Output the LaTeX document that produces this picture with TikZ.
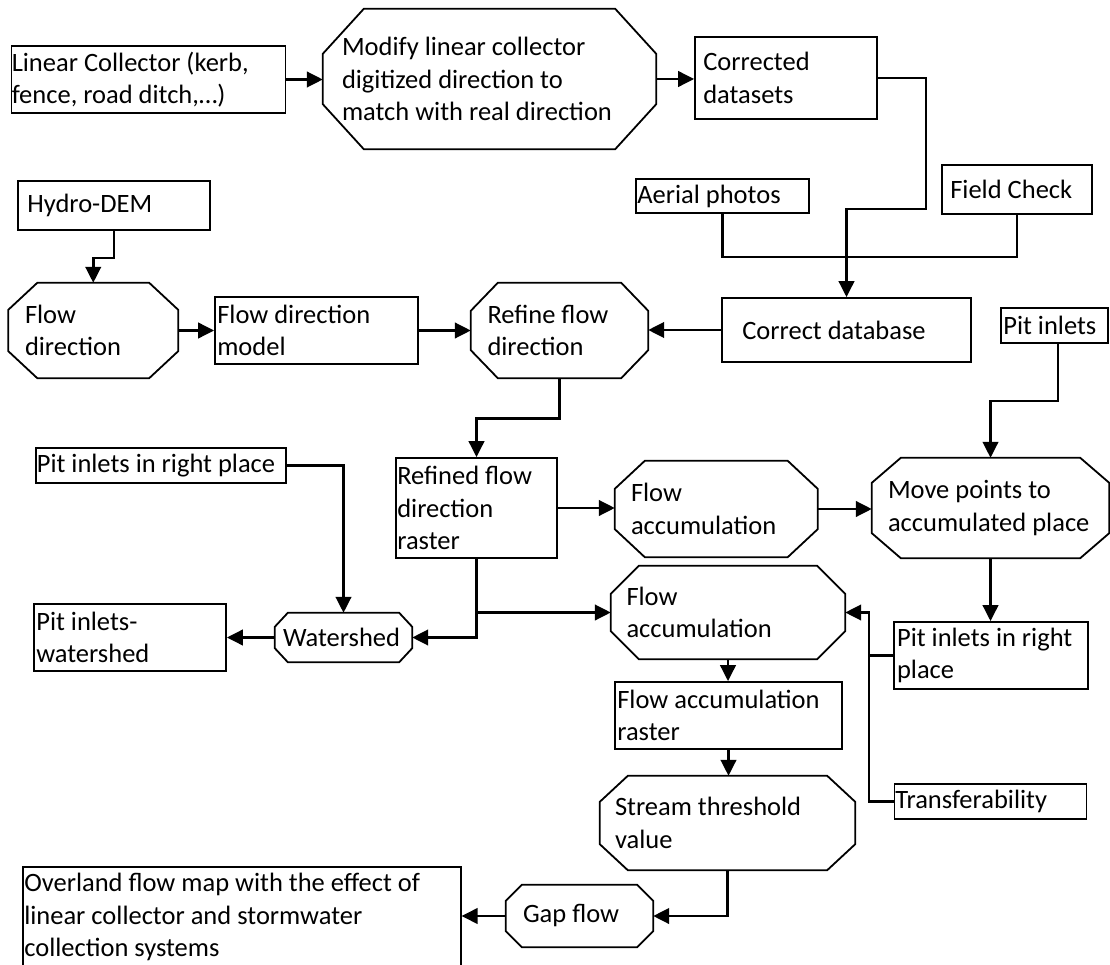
\documentclass[tikz,border=0pt]{standalone}
\usepackage{fontspec}
\setmainfont{Carlito}
\usetikzlibrary{arrows.meta,calc}
\newcommand\fsz{\fontsize{26.5}{32.5}\selectfont}
\newcommand\octo[3]{\draw[octline] ([xshift=#2pt]#1.north west) -- ([xshift=-#2pt]#1.north east) -- ([yshift=-#3pt]#1.north east) -- ([yshift=#3pt]#1.south east) -- ([xshift=-#2pt]#1.south east) -- ([xshift=#2pt]#1.south west) -- ([yshift=#3pt]#1.south west) -- ([yshift=-#3pt]#1.north west) -- cycle;}
\tikzset{
  shp/.style={draw=black, line width=1.8pt, inner sep=0pt},
  oc/.style={draw=none, inner sep=0pt},
  octline/.style={draw=black, line width=1.8pt, line join=miter},
  txt/.style={inner sep=0pt, align=left, font=\fsz, anchor=west},
  con/.style={line width=2.6pt},
  arr/.style={con, -{Triangle[length=16pt,width=15.5pt]}}
}
\begin{document}
\begin{tikzpicture}[x=1pt,y=-1pt]
\useasboundingbox (0,0) rectangle (1110,965);
% rectangles
\node[shp, minimum width=274pt, minimum height=67pt] (lin) at (148.5,79.5) {};
\node[shp, minimum width=182pt, minimum height=82pt] (corr) at (786,78) {};
\node[shp, minimum width=173pt, minimum height=34pt] (aer) at (722.5,196) {};
\node[shp, minimum width=150pt, minimum height=49pt] (fc) at (1017,189.5) {};
\node[shp, minimum width=192pt, minimum height=49pt] (hyd) at (114,205.5) {};
\node[shp, minimum width=203pt, minimum height=67pt] (fdm) at (316.5,330.5) {};
\node[shp, minimum width=249pt, minimum height=64pt] (cdb) at (846.5,330) {};
\node[shp, minimum width=107pt, minimum height=35pt] (pit) at (1054.5,325.5) {};
\node[shp, minimum width=161pt, minimum height=100pt] (rr) at (476.5,508) {};
\node[shp, minimum width=250pt, minimum height=35pt] (pirL) at (161,465.5) {};
\node[shp, minimum width=192pt, minimum height=67pt] (piw) at (130,637.5) {};
\node[shp, minimum width=193.5pt, minimum height=67pt] (pirR) at (991,655.5) {};
\node[shp, minimum width=227pt, minimum height=67pt] (far) at (728.5,715.5) {};
\node[shp, minimum width=192pt, minimum height=35pt] (tr) at (990.5,801.5) {};
\node[shp, minimum width=437.7pt, minimum height=100pt] (over) at (241.85,917) {};
% octagons
\node[oc, minimum width=333pt, minimum height=140pt] (mod) at (489.5,79) {}; \octo{mod}{41}{45}
\node[oc, minimum width=169.5pt, minimum height=95pt] (fd) at (93.25,330.5) {}; \octo{fd}{29}{27}
\node[oc, minimum width=177pt, minimum height=95pt] (ref) at (559.5,330.5) {}; \octo{ref}{27}{28}
\node[oc, minimum width=137pt, minimum height=49pt] (ws) at (343.5,637.5) {}; \octo{ws}{13}{14}
\node[oc, minimum width=202.5pt, minimum height=96pt] (fa1) at (716.25,509) {}; \octo{fa1}{30}{28}
\node[oc, minimum width=237pt, minimum height=100pt] (mv) at (990.5,508) {}; \octo{mv}{29}{25}
\node[oc, minimum width=234pt, minimum height=93pt] (fa2) at (728,612.5) {}; \octo{fa2}{28}{28}
\node[oc, minimum width=255pt, minimum height=94pt] (st) at (727.5,823) {}; \octo{st}{28}{26}
\node[oc, minimum width=147pt, minimum height=62pt] (gap) at (579.5,916) {}; \octo{gap}{16}{16}
% texts
\node[txt] (lin-t) at ([xshift=1pt]lin.west) {Linear Collector (kerb,\\fence, road ditch,…)};
\node[txt] (mod-t) at ([xshift=19pt]mod.west) {Modify linear collector\\digitized direction to\\match with real direction};
\node[txt] (corr-t) at ([xshift=9pt]corr.west) {Corrected\\datasets};
\node[txt] (aer-t) at ([xshift=2pt]aer.west) {Aerial photos};
\node[txt] (fc-t) at ([xshift=9pt]fc.west) {Field Check};
\node[txt] (hyd-t) at ([xshift=10pt]hyd.west) {Hydro-DEM};
\node[txt] (fd-t) at ([xshift=16.5pt]fd.west) {Flow\\direction};
\node[txt] (fdm-t) at ([xshift=3pt]fdm.west) {Flow direction\\model};
\node[txt] (ref-t) at ([xshift=16.5pt]ref.west) {Refine flow\\direction};
\node[txt] (cdb-t) at ([xshift=21pt]cdb.west) {Correct database};
\node[txt] (pit-t) at ([xshift=3pt]pit.west) {Pit inlets};
\node[txt] (rr-t) at ([xshift=2pt]rr.west) {Refined flow\\direction\\raster};
\node[txt] (fa1-t) at ([xshift=16pt]fa1.west) {Flow\\accumulation};
\node[txt] (mv-t) at ([xshift=16pt]mv.west) {Move points to\\accumulated place};
\node[txt] (pirL-t) at ([xshift=1.5pt]pirL.west) {Pit inlets in right place};
\node[txt] (ws-t) at ([xshift=8pt]ws.west) {Watershed};
\node[txt] (piw-t) at ([xshift=3pt]piw.west) {Pit inlets-\\watershed};
\node[txt] (fa2-t) at ([xshift=15.5pt]fa2.west) {Flow\\accumulation};
\node[txt] (pirR-t) at ([xshift=3.5pt]pirR.west) {Pit inlets in right\\place};
\node[txt] (far-t) at ([xshift=3pt]far.west) {Flow accumulation\\raster};
\node[txt] (st-t) at ([xshift=15pt]st.west) {Stream threshold\\value};
\node[txt] (tr-t) at ([xshift=1.5pt]tr.west) {Transferability};
\node[txt] (gap-t) at ([xshift=17pt]gap.west) {Gap flow};
\node[txt] (over-t) at ([xshift=2pt]over.west) {Overland flow map with the effect of\\linear collector and stormwater\\collection systems};
% connectors
\draw[arr] (lin.east) -- (lin.east -| mod.west);
\draw[arr] (mod.east) -- (mod.east -| corr.west);
\draw[arr] (corr.east) -- ++(48,0) -- ++(0,131) -| (cdb.north);
\draw[con] (aer.south) -- ++(0,43) -| (fc.south);
\draw[arr] (hyd.south) -- ++(0,27) -| (fd.north);
\draw[arr] (fd.east) -- (fdm.west);
\draw[arr] (fdm.east) -- (ref.west);
\draw[arr] (cdb.west) -- (cdb.west -| ref.east);
\draw[arr] (ref.south) -- ++(0,40) -| (rr.north);
\draw[arr] (rr.east) -- (rr.east -| fa1.west);
\draw[arr] (fa1.east) -- (fa1.east -| mv.west);
\draw[arr] ([xshift=3.5pt]pit.south) -- ++(0,57) -| (mv.north);
\draw[arr] (mv.south) -- (mv.south |- pirR.north);
\draw[arr] (pirL.east) -| (ws.north);
\draw[arr] (ws.west) -- (piw.east);
\draw[arr] (rr.south) |- (ws.east);
\draw[arr] (rr.south) |- (fa2.west);
\draw[arr] (tr.west) -- ++(-24.5,0) |- (fa2.east);
\draw[con] (pirR.west) -- ++(-24.5,0);
\draw[arr] (fa2.south) -- (fa2.south |- far.north);
\draw[arr] (far.south) -- (far.south |- st.north);
\draw[arr] (st.south) |- (gap.east);
\draw[arr] (gap.west) -- (gap.west -| over.east);
\end{tikzpicture}
\end{document}
